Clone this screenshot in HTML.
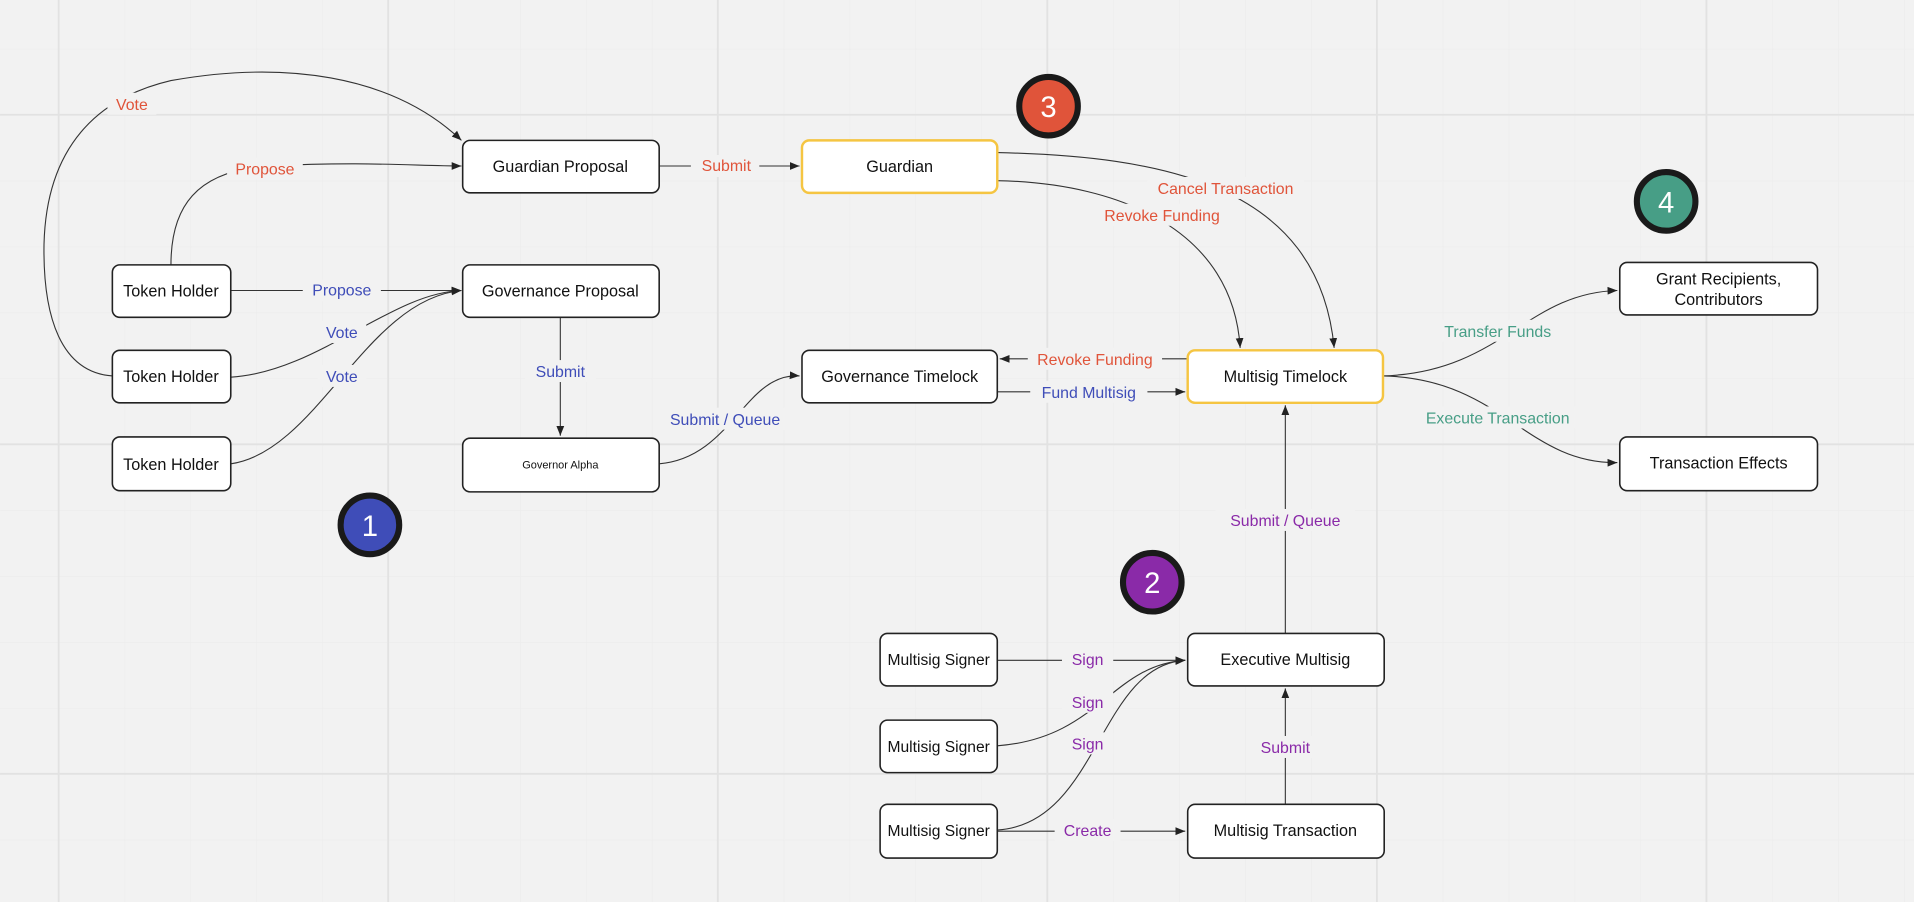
<!DOCTYPE html>
<html><head><meta charset="utf-8"><style>
html,body{margin:0;padding:0;background:#f2f2f2;}
svg{display:block;}
text{font-family:"Liberation Sans",sans-serif;}
</style></head><body>
<svg width="1914" height="902" viewBox="0 0 1568 739" xmlns="http://www.w3.org/2000/svg">
<defs>
<marker id="a" viewBox="0 0 10 10" refX="10" refY="5" markerWidth="8" markerHeight="8" orient="auto" markerUnits="userSpaceOnUse"><path d="M0,1 L10,5 L0,9 z" fill="#222"/></marker>
<pattern id="g" width="54" height="54" patternUnits="userSpaceOnUse" x="48" y="94"><path d="M0,0 V54 M0,0 H54" stroke="#ececec" stroke-width="1" fill="none"/></pattern>
</defs>
<rect width="1568" height="739" fill="#f2f2f2"/>
<rect width="1568" height="739" fill="url(#g)"/>
<g stroke="#e2e2e2" stroke-width="1.5">
<line x1="48" y1="0" x2="48" y2="739"/><line x1="318" y1="0" x2="318" y2="739"/><line x1="588" y1="0" x2="588" y2="739"/><line x1="858" y1="0" x2="858" y2="739"/><line x1="1128" y1="0" x2="1128" y2="739"/><line x1="1398" y1="0" x2="1398" y2="739"/>
<line x1="0" y1="94" x2="1568" y2="94"/><line x1="0" y1="364" x2="1568" y2="364"/><line x1="0" y1="634" x2="1568" y2="634"/>
</g>
<g fill="none" stroke="#333" stroke-width="0.9" marker-end="url(#a)">
<path d="M92,308 C50,305 35,260 36,200 C38,120 80,80 140,66 C230,50 320,60 378,115"/>
<path d="M140,217 C140,170 160,140 220,136 C300,132 340,136 378,136"/>
<path d="M189,238 L378,238"/>
<path d="M189,309 C260,305 320,240 378,238"/>
<path d="M189,380 C260,370 300,245 378,238"/>
<path d="M540,136 L655,136"/>
<path d="M459,260 L459,357"/>
<path d="M540,380 C600,375 610,305 655,308"/>
<path d="M817,125 C950,128 1080,150 1093,285"/>
<path d="M817,148 C920,150 1010,190 1016,285"/>
<path d="M973,294 L819,294"/>
<path d="M817,321 L971,321"/>
<path d="M1053,519 L1053,332"/>
<path d="M1133,308 C1230,305 1250,240 1325,238"/>
<path d="M1133,308 C1230,310 1250,380 1325,379"/>
<path d="M817,541 L971,541"/>
<path d="M817,611 C900,605 910,545 971,541"/>
<path d="M817,680 C900,675 900,545 971,541"/>
<path d="M817,681 L971,681"/>
<path d="M1053,659 L1053,564"/>
</g>
<g font-size="13" text-anchor="middle">
<g fill="#f2f2f2"><rect x="88" y="76" width="40" height="18"/><rect x="186" y="129" width="62" height="18"/><rect x="248" y="229" width="64" height="18"/><rect x="260" y="263" width="40" height="18"/><rect x="260" y="299" width="40" height="18"/><rect x="566" y="127" width="56" height="18"/><rect x="430" y="295" width="58" height="18"/><rect x="540" y="334" width="108" height="18"/><rect x="940" y="145" width="128" height="18"/><rect x="898" y="167" width="108" height="18"/><rect x="842" y="285" width="110" height="18"/><rect x="844" y="312" width="96" height="18"/><rect x="996" y="417" width="114" height="18"/><rect x="1173" y="262" width="108" height="18"/><rect x="1158" y="333" width="138" height="18"/><rect x="870" y="531" width="42" height="18"/><rect x="870" y="566" width="42" height="18"/><rect x="870" y="600" width="42" height="18"/><rect x="864" y="671" width="54" height="18"/><rect x="1025" y="603" width="56" height="18"/></g>
<g fill="#e0543a"><text x="108" y="90">Vote</text><text x="217" y="143">Propose</text><text x="595" y="140">Submit</text><text x="1004" y="159">Cancel Transaction</text><text x="952" y="181">Revoke Funding</text><text x="897" y="299">Revoke Funding</text></g>
<g fill="#3f4db8"><text x="280" y="242">Propose</text><text x="280" y="277">Vote</text><text x="280" y="313">Vote</text><text x="459" y="309">Submit</text><text x="594" y="348">Submit / Queue</text><text x="892" y="326">Fund Multisig</text></g>
<g fill="#479e86"><text x="1227" y="276">Transfer Funds</text><text x="1227" y="347">Execute Transaction</text></g>
<g fill="#8a2aa8"><text x="1053" y="431">Submit / Queue</text><text x="891" y="545">Sign</text><text x="891" y="580">Sign</text><text x="891" y="614">Sign</text><text x="891" y="685">Create</text><text x="1053" y="617">Submit</text></g>
</g>
<g stroke="#222" stroke-width="1.3" fill="#fff">
<rect x="379" y="115" width="161" height="43" rx="6"/>
<rect x="657" y="115" width="160" height="43" rx="6" stroke="#f5c542" stroke-width="2"/>
<rect x="92" y="217" width="97" height="43" rx="6"/>
<rect x="92" y="287" width="97" height="43" rx="6"/>
<rect x="92" y="358" width="97" height="44" rx="6"/>
<rect x="379" y="217" width="161" height="43" rx="6"/>
<rect x="379" y="359" width="161" height="44" rx="6"/>
<rect x="657" y="287" width="160" height="43" rx="6"/>
<rect x="973" y="287" width="160" height="43" rx="6" stroke="#f5c542" stroke-width="2"/>
<rect x="1327" y="215" width="162" height="43" rx="6"/>
<rect x="1327" y="358" width="162" height="44" rx="6"/>
<rect x="973" y="519" width="161" height="43" rx="6"/>
<rect x="973" y="659" width="161" height="44" rx="6"/>
<rect x="721" y="519" width="96" height="43" rx="6"/>
<rect x="721" y="590" width="96" height="43" rx="6"/>
<rect x="721" y="659" width="96" height="44" rx="6"/>
</g>
<g font-size="13.3" fill="#111" text-anchor="middle">
<text x="459" y="141">Guardian Proposal</text>
<text x="737" y="141">Guardian</text>
<text x="140" y="243">Token Holder</text>
<text x="140" y="313">Token Holder</text>
<text x="140" y="385">Token Holder</text>
<text x="459" y="243">Governance Proposal</text>
<text x="459" y="384" font-size="9">Governor Alpha</text>
<text x="737" y="313">Governance Timelock</text>
<text x="1053" y="313">Multisig Timelock</text>
<text x="1408" y="233">Grant Recipients,</text>
<text x="1408" y="250">Contributors</text>
<text x="1408" y="384">Transaction Effects</text>
<text x="1053" y="545">Executive Multisig</text>
<text x="1053" y="685">Multisig Transaction</text>
<text x="769" y="545" font-size="12.8">Multisig Signer</text>
<text x="769" y="616" font-size="12.8">Multisig Signer</text>
<text x="769" y="685" font-size="12.8">Multisig Signer</text>
</g>
<g stroke="#1a1a1a" stroke-width="5">
<circle cx="303" cy="430" r="24" fill="#3f4db8"/>
<circle cx="859" cy="87" r="24" fill="#e0543a"/>
<circle cx="944" cy="477" r="24" fill="#8a2aa8"/>
<circle cx="1365" cy="165" r="24" fill="#479e86"/>
</g>
<g fill="#fff" font-size="24" text-anchor="middle">
<text x="303" y="439">1</text><text x="859" y="96">3</text><text x="944" y="486">2</text><text x="1365" y="174">4</text>
</g>
</svg>
</body></html>
